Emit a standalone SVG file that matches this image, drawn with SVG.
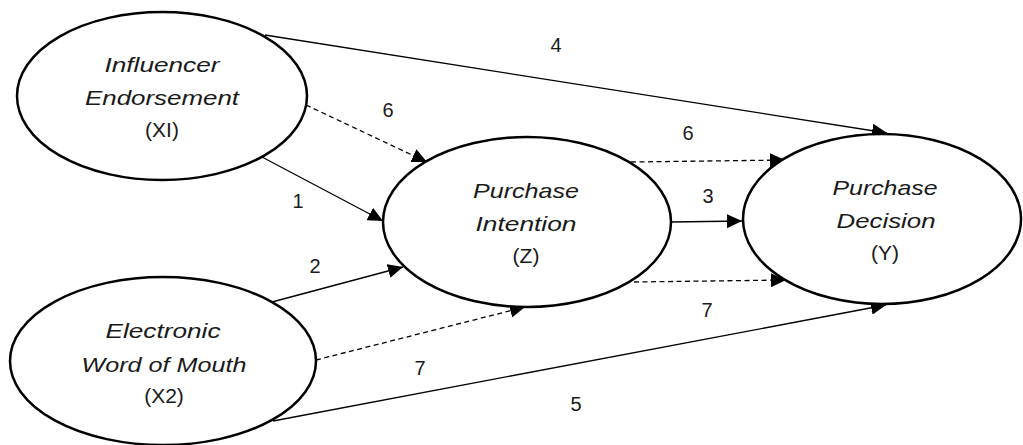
<svg xmlns="http://www.w3.org/2000/svg" width="1023" height="445" viewBox="0 0 1023 445">
<style>
.node{fill:#fff;stroke:#000;stroke-width:2.5}
.lbl{font-family:"Liberation Sans",Arial,sans-serif;font-size:21px;fill:#1a1a1a;text-anchor:middle}
.it{font-style:italic}
.num{font-family:"Liberation Sans",Arial,sans-serif;font-size:20px;fill:#1a1a1a;text-anchor:middle}
.ln{fill:none;stroke:#000;stroke-width:1.3}
.dash{stroke-dasharray:5 3.5}
</style>
<defs>
<marker id="ah" markerUnits="userSpaceOnUse" markerWidth="16" markerHeight="14" refX="15" refY="7" orient="auto">
<path d="M0,0 L15,7 L0,14 Z" fill="#000"/>
</marker>
</defs>
<rect width="1023" height="445" fill="#fff"/>
<g id="connectors">
<line class="ln" x1="265" y1="35" x2="887" y2="133" marker-end="url(#ah)"/>
<line class="ln dash" x1="306" y1="105" x2="427" y2="162" marker-end="url(#ah)"/>
<line class="ln" x1="262" y1="157" x2="383" y2="221" marker-end="url(#ah)"/>
<line class="ln" x1="272" y1="302" x2="403" y2="267" marker-end="url(#ah)"/>
<line class="ln dash" x1="316" y1="360" x2="525" y2="307" marker-end="url(#ah)"/>
<line class="ln" x1="273" y1="421" x2="886" y2="305" marker-end="url(#ah)"/>
<line class="ln dash" x1="631" y1="162" x2="785" y2="160" marker-end="url(#ah)"/>
<line class="ln" x1="671" y1="222" x2="742" y2="221" marker-end="url(#ah)"/>
<line class="ln dash" x1="634" y1="282" x2="786" y2="280" marker-end="url(#ah)"/>
<text class="num" x="556" y="52">4</text>
<text class="num" x="388" y="117">6</text>
<text class="num" x="688" y="140">6</text>
<text class="num" x="298" y="208">1</text>
<text class="num" x="315" y="273">2</text>
<text class="num" x="708" y="203">3</text>
<text class="num" x="707" y="317">7</text>
<text class="num" x="420" y="375">7</text>
<text class="num" x="576" y="411">5</text>
</g>
<g id="X1">
<ellipse class="node" cx="162" cy="96" rx="145" ry="84"/>
<text class="lbl it" x="162" y="72" textLength="115" lengthAdjust="spacingAndGlyphs">Influencer</text>
<text class="lbl it" x="162" y="105" textLength="154" lengthAdjust="spacingAndGlyphs">Endorsement</text>
<text class="lbl" x="162" y="137">(XI)</text>
</g>
<g id="X2">
<ellipse class="node" cx="163" cy="361" rx="153" ry="84"/>
<text class="lbl it" x="163" y="338" textLength="115" lengthAdjust="spacingAndGlyphs">Electronic</text>
<text class="lbl it" x="164" y="372" textLength="165" lengthAdjust="spacingAndGlyphs">Word of Mouth</text>
<text class="lbl" x="164" y="403">(X2)</text>
</g>
<g id="Z">
<ellipse class="node" cx="527" cy="222" rx="144" ry="85"/>
<text class="lbl it" x="526" y="198" textLength="106" lengthAdjust="spacingAndGlyphs">Purchase</text>
<text class="lbl it" x="526" y="231" textLength="101" lengthAdjust="spacingAndGlyphs">Intention</text>
<text class="lbl" x="526" y="263">(Z)</text>
</g>
<g id="Y">
<ellipse class="node" cx="882" cy="219" rx="139" ry="85"/>
<text class="lbl it" x="885" y="195" textLength="105" lengthAdjust="spacingAndGlyphs">Purchase</text>
<text class="lbl it" x="886" y="228" textLength="99" lengthAdjust="spacingAndGlyphs">Decision</text>
<text class="lbl" x="885" y="260">(Y)</text>
</g>
</svg>
